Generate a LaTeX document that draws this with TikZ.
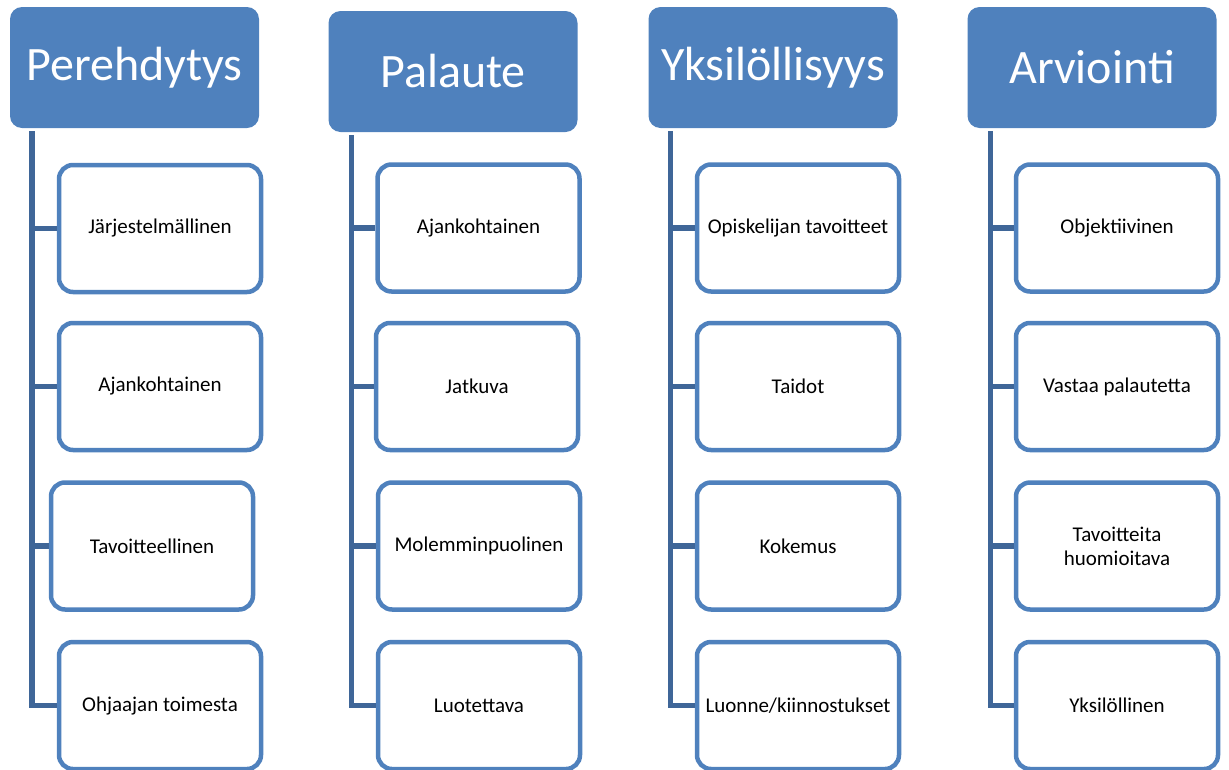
\documentclass[tikz,border=0pt]{standalone}
\usepackage{fontspec}
\setmainfont{Carlito}
\definecolor{accblue}{HTML}{4F81BD}
\definecolor{linkblue}{HTML}{3F6698}

\begin{document}
\begin{tikzpicture}[x=1pt, y=-1pt]
 \tikzstyle{otsikko}=[rectangle, rounded corners=12pt, fill=accblue, text=white, minimum width=249pt, minimum height=121pt, font=\fontsize{48}{52}\selectfont]
 \tikzstyle{kohta}=[rectangle, rounded corners=14pt, draw=accblue, line width=4.5pt, fill=white, text=black, minimum width=202pt, minimum height=127pt, align=center, font=\fontsize{21}{24}\selectfont]
 \tikzstyle{linkki}=[draw=linkblue, line width=5.5pt, miter limit=10]
 \useasboundingbox (0,0) rectangle (1229,769);
 %
 \node[otsikko] (H1) at (134.5, 67.5) {Perehdytys};
 \node[otsikko] (H2) at (453, 71.5) {Palaute};
 \node[otsikko] (H3) at (773, 67.5) {Yksilöllisyys};
 \node[otsikko] (H4) at (1092, 67.5) {Arviointi};
 %
 \node[kohta] (B11) at (160, 228.5) {Järjestelmällinen};
 \node[kohta] (B12) at (160, 386.5) {Ajankohtainen};
 \node[kohta] (B13) at (152, 546) {Tavoitteellinen};
 \node[kohta] (B14) at (160, 705.5) {Ohjaajan toimesta};
 %
 \node[kohta] (B21) at (478.5, 228) {Ajankohtainen};
 \node[kohta] (B22) at (477, 386.5) {Jatkuva};
 \node[kohta] (B23) at (479, 546) {Molemminpuolinen};
 \node[kohta] (B24) at (479, 705.5) {Luotettava};
 %
 \node[kohta] (B31) at (798, 228) {Opiskelijan tavoitteet};
 \node[kohta] (B32) at (798, 386.5) {Taidot};
 \node[kohta] (B33) at (798, 546) {Kokemus};
 \node[kohta] (B34) at (798, 705.5) {Luonne/kiinnostukset};
 %
 \node[kohta] (B41) at (1117, 228) {Objektiivinen};
 \node[kohta] (B42) at (1117, 386.5) {Vastaa palautetta};
 \node[kohta] (B43) at (1117, 546) {Tavoitteita\\huomioitava};
 \node[kohta] (B44) at (1117, 705.5) {Yksilöllinen};
 %%
 \coordinate (T1) at ([xshift=22pt, yshift=-3pt]H1.south west);
 \coordinate (T2) at ([xshift=23pt, yshift=-3pt]H2.south west);
 \coordinate (T3) at ([xshift=22pt, yshift=-3pt]H3.south west);
 \coordinate (T4) at ([xshift=23pt, yshift=-3pt]H4.south west);
 %%
 \draw[linkki] (T1) |- (B14.west);
 \draw[linkki] (T1 |- B11.west) -- (B11.west);
 \draw[linkki] (T1 |- B12.west) -- (B12.west);
 \draw[linkki] (T1 |- B13.west) -- (B13.west);
 %
 \draw[linkki] (T2) |- (B24.west);
 \draw[linkki] (T2 |- B21.west) -- (B21.west);
 \draw[linkki] (T2 |- B22.west) -- (B22.west);
 \draw[linkki] (T2 |- B23.west) -- (B23.west);
 %
 \draw[linkki] (T3) |- (B34.west);
 \draw[linkki] (T3 |- B31.west) -- (B31.west);
 \draw[linkki] (T3 |- B32.west) -- (B32.west);
 \draw[linkki] (T3 |- B33.west) -- (B33.west);
 %
 \draw[linkki] (T4) |- (B44.west);
 \draw[linkki] (T4 |- B41.west) -- (B41.west);
 \draw[linkki] (T4 |- B42.west) -- (B42.west);
 \draw[linkki] (T4 |- B43.west) -- (B43.west);
\end{tikzpicture}
\end{document}
